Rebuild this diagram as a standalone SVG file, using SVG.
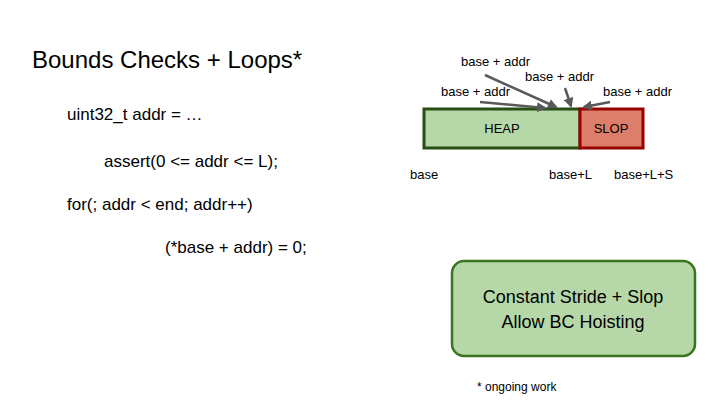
<svg xmlns="http://www.w3.org/2000/svg" width="720" height="405" viewBox="0 0 720 405">
<style>
text{font-family:"Liberation Sans",Arial,sans-serif;fill:#000}
.s{font-size:13px}
.c{font-size:17px}
.a{stroke:#595959;stroke-width:2.5;fill:none;marker-end:url(#ah)}
</style>
<defs><marker id="ah" viewBox="0 0 10 10" refX="8" refY="5" markerWidth="4" markerHeight="4" orient="auto"><path d="M0,0L10,5L0,10z" fill="#595959"/></marker></defs>
<rect width="720" height="405" fill="#fff"/>
<text x="32" y="68" font-size="24">Bounds Checks + Loops*</text>
<text class="c" x="67" y="120">uint32_t addr = …</text>
<text class="c" x="104" y="167">assert(0 &lt;= addr &lt;= L);</text>
<text class="c" x="67" y="210">for(; addr &lt; end; addr++)</text>
<text class="c" x="165" y="253">(*base + addr) = 0;</text>
<g id="heap"><rect x="424" y="109" width="156" height="39" fill="#b6d7a8" stroke="#274e13" stroke-width="3"/><text class="s" x="502" y="133" text-anchor="middle">HEAP</text></g>
<g id="slop"><rect x="580" y="109" width="63" height="39" fill="#dd7e6b" stroke="#990000" stroke-width="3"/><text class="s" x="611" y="133" text-anchor="middle">SLOP</text></g>
<text class="s" x="410" y="179">base</text>
<text class="s" x="549" y="179">base+L</text>
<text class="s" x="614" y="179">base+L+S</text>
<text class="s" x="461" y="66">base + addr</text>
<text class="s" x="525" y="81">base + addr</text>
<text class="s" x="441" y="96">base + addr</text>
<text class="s" x="603" y="96">base + addr</text>
<g id="connectors">
<line class="a" x1="480" y1="102" x2="545" y2="108"/>
<line class="a" x1="485" y1="75" x2="556" y2="107"/>
<line class="a" x1="565" y1="88" x2="571" y2="106"/>
<line class="a" x1="610" y1="102" x2="584" y2="107"/>
</g>
<g id="box"><rect x="452" y="261" width="243" height="95" rx="12" fill="#b6d7a8" stroke="#38761d" stroke-width="2.5"/>
<text x="573" y="303" font-size="18" text-anchor="middle">Constant Stride + Slop</text>
<text x="573" y="328" font-size="18" text-anchor="middle">Allow BC Hoisting</text></g>
<text x="477" y="391" font-size="12">* ongoing work</text>
</svg>
